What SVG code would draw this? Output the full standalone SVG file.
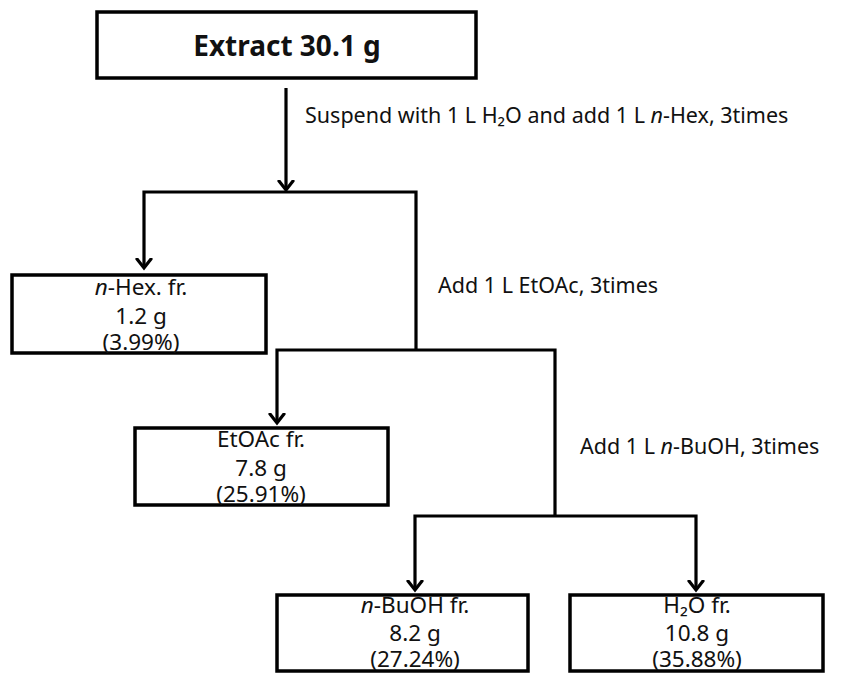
<svg xmlns="http://www.w3.org/2000/svg" width="841" height="673" viewBox="0 0 841 673">
<defs>
<marker id="arr" markerUnits="userSpaceOnUse" markerWidth="20" markerHeight="20" viewBox="-10 -10 20 20" refX="0" refY="0" orient="auto">
<path d="M-9,-7 L0,0 L-9,7" fill="none" stroke="#000" stroke-width="3.2" stroke-linecap="round" stroke-linejoin="miter"/>
</marker>
<style>
.box{fill:#fff;stroke:#000;stroke-width:3.5}
.ln{fill:none;stroke:#000;stroke-width:3.2}
.t{font-family:"Noto Sans","Open Sans",sans-serif;font-size:22.5px;fill:#111;text-anchor:middle}
.lbl{font-family:"Noto Sans","Open Sans",sans-serif;font-size:21.5px;fill:#111}
.title{font-family:"Noto Sans","Open Sans",sans-serif;font-size:28px;font-weight:bold;fill:#111;text-anchor:middle}
</style>
</defs>
<rect width="841" height="673" fill="#fff"/>
<g id="connectors">
<path class="ln" d="M286,88 V190" marker-end="url(#arr)"/>
<path class="ln" d="M416,350 V192 H144 V268" marker-end="url(#arr)"/>
<path class="ln" d="M555,516 V350 H277 V423" marker-end="url(#arr)"/>
<path class="ln" d="M555,516 H415 V590" marker-end="url(#arr)"/>
<path class="ln" d="M555,516 H696 V590" marker-end="url(#arr)"/>
</g>
<g id="labels">
<text class="lbl" x="305" y="123">Suspend with 1 L H₂O and add 1 L <tspan font-style="italic">n</tspan>-Hex, 3times</text>
<text class="lbl" x="438" y="293">Add 1 L EtOAc, 3times</text>
<text class="lbl" x="580" y="454">Add 1 L <tspan font-style="italic">n</tspan>-BuOH, 3times</text>
</g>
<g id="extract">
<rect class="box" x="97" y="12" width="379" height="66"/>
<text class="title" x="287" y="56">Extract 30.1 g</text>
</g>
<g id="nhex">
<rect class="box" x="12" y="275" width="254" height="78"/>
<text class="t" x="141" y="295"><tspan font-style="italic">n</tspan>-Hex. fr.</text>
<text class="t" x="141" y="324">1.2 g</text>
<text class="t" x="141" y="350">(3.99%)</text>
</g>
<g id="etoac">
<rect class="box" x="135" y="428" width="253" height="77"/>
<text class="t" x="261" y="447">EtOAc fr.</text>
<text class="t" x="261" y="476">7.8 g</text>
<text class="t" x="261" y="502">(25.91%)</text>
</g>
<g id="nbuoh">
<rect class="box" x="277" y="595" width="251" height="76"/>
<text class="t" x="415" y="613"><tspan font-style="italic">n</tspan>-BuOH fr.</text>
<text class="t" x="415" y="641">8.2 g</text>
<text class="t" x="415" y="667">(27.24%)</text>
</g>
<g id="h2o">
<rect class="box" x="570" y="595" width="253" height="76"/>
<text class="t" x="697" y="613">H₂O fr.</text>
<text class="t" x="697" y="641">10.8 g</text>
<text class="t" x="697" y="667">(35.88%)</text>
</g>
</svg>
